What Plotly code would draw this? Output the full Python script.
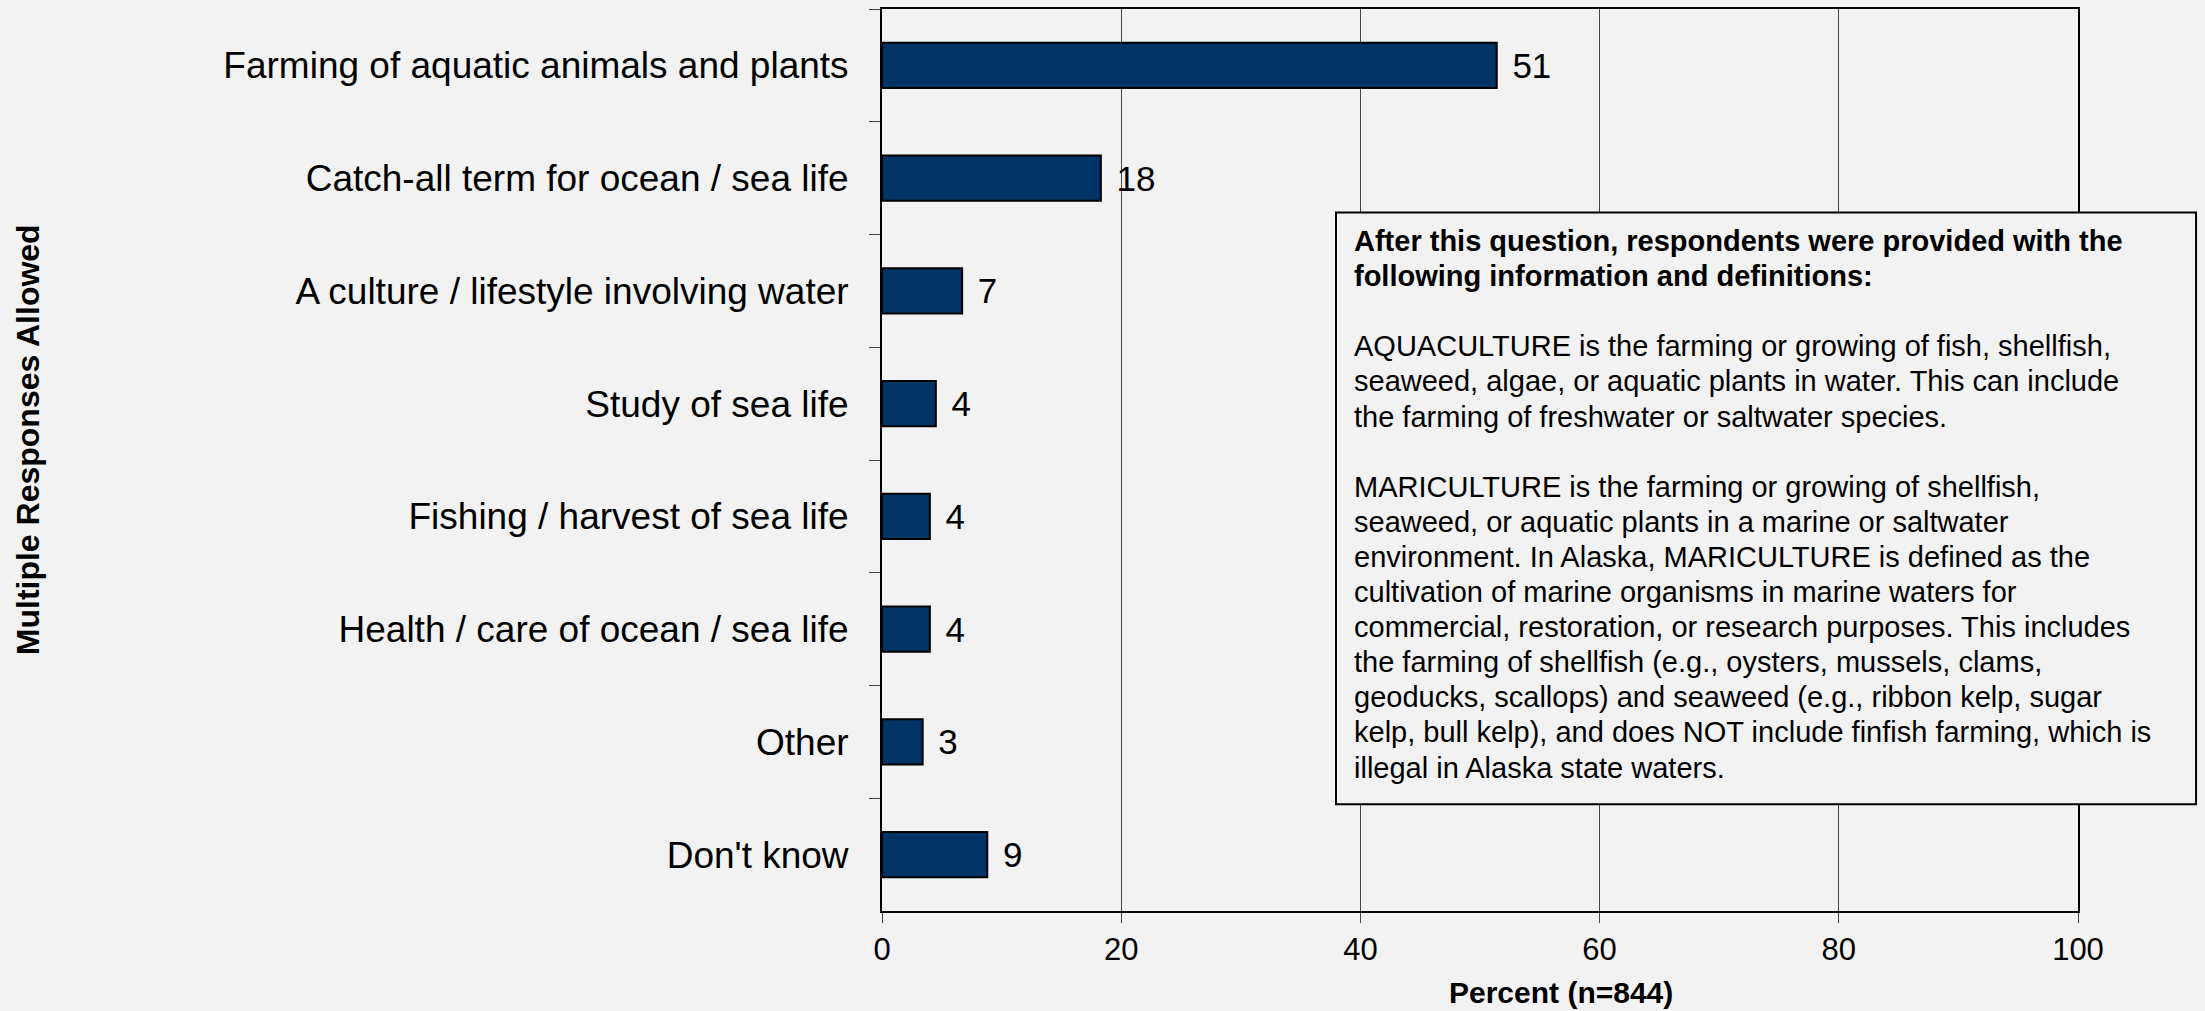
import plotly.graph_objects as go

categories = [
    "Farming of aquatic animals and plants",
    "Catch-all term for ocean / sea life",
    "A culture / lifestyle involving water",
    "Study of sea life",
    "Fishing / harvest of sea life",
    "Health / care of ocean / sea life",
    "Other",
    "Don't know",
]
values = [51.4, 18.3, 6.7, 4.5, 4.0, 4.0, 3.4, 8.8]
labels = ["51", "18", "7", "4", "4", "4", "3", "9"]
x_ticks = [0, 20, 40, 60, 80, 100]

bold_lines = [
    "After this question, respondents were provided with the",
    "following information and definitions:",
]
body_lines = [
    "",
    "AQUACULTURE is the farming or growing of fish, shellfish,",
    "seaweed, algae, or aquatic plants in water. This can include",
    "the farming of freshwater or saltwater species.",
    "",
    "MARICULTURE is the farming or growing of shellfish,",
    "seaweed, or aquatic plants in a marine or saltwater",
    "environment. In Alaska, MARICULTURE is defined as the",
    "cultivation of marine organisms in marine waters for",
    "commercial, restoration, or research purposes. This includes",
    "the farming of shellfish (e.g., oysters, mussels, clams,",
    "geoducks, scallops) and seaweed (e.g., ribbon kelp, sugar",
    "kelp, bull kelp), and does NOT include finfish farming, which is",
    "illegal in Alaska state waters.",
]

FONT = "Arial, Liberation Sans, sans-serif"


def styled(line, bold=False):
    if not line:
        return ""
    inner = f"<b>{line}</b>" if bold else line
    return f'<span style="font-size:29px">{inner}</span>'


note_text = "<br>".join(
    [styled(l, True) for l in bold_lines] + [styled(l) for l in body_lines]
)

fig = go.Figure(
    go.Bar(
        x=values,
        y=categories,
        orientation="h",
        marker=dict(color="#003366", line=dict(color="#000000", width=2)),
        text=labels,
        texttemplate="\u00a0\u200a%{text}",
        textposition="outside",
        textfont=dict(family=FONT, size=35, color="#000000"),
        cliponaxis=False,
        width=0.4,
    )
)

fig.update_layout(
    width=2205,
    height=1011,
    paper_bgcolor="#f2f2f2",
    plot_bgcolor="#f2f2f2",
    margin=dict(l=882, r=127, t=7, b=100),
    showlegend=False,
    font=dict(family=FONT, color="#000000"),
)

fig.update_xaxes(
    range=[0, 100],
    tickvals=x_ticks,
    ticktext=[str(t) for t in x_ticks],
    tickfont=dict(size=31),
    ticks="outside",
    ticklen=10,
    tickcolor="#444444",
    showgrid=True,
    gridcolor="#444444",
    gridwidth=1,
    zeroline=False,
    showline=True,
    linecolor="#000000",
    linewidth=2,
    mirror=True,
)

fig.update_yaxes(
    categoryorder="array",
    categoryarray=categories,
    autorange="reversed",
    tickfont=dict(size=37),
    ticks="outside",
    tickson="boundaries",
    ticklen=11,
    tickcolor="#444444",
    ticklabelstandoff=24,
    showgrid=False,
    showline=True,
    linecolor="#000000",
    linewidth=2,
    mirror=True,
)

fig.add_annotation(
    text="<b>Multiple Responses Allowed</b>",
    xref="paper", yref="paper",
    x=-0.714, y=0.522,
    xanchor="center", yanchor="middle",
    textangle=-90,
    showarrow=False,
    font=dict(size=32, color="#000000"),
)

fig.add_annotation(
    text="<b>Percent (n=844)</b>",
    xref="paper", yref="paper",
    x=0.568, y=-0.0907,
    xanchor="center", yanchor="middle",
    showarrow=False,
    font=dict(size=30, color="#000000"),
)

# note box
fig.add_shape(
    type="rect",
    xref="paper", yref="paper",
    x0=0.3796, x1=1.0987, y0=0.1184, y1=0.7743,
    line=dict(color="#000000", width=2),
    fillcolor="#f2f2f2",
    layer="above",
)

fig.add_annotation(
    text=note_text,
    xref="paper", yref="paper",
    x=0.393, y=0.7627,
    xanchor="left", yanchor="top",
    showarrow=False,
    align="left",
    font=dict(size=27, color="#000000"),
)

fig.write_html(
    "out.html",
    config={"displayModeBar": False},
    post_script="document.body.style.margin='0';document.body.style.background='#f2f2f2';",
)
